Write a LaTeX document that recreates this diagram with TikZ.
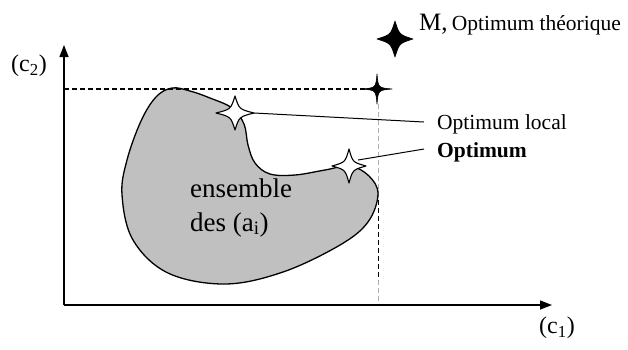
\documentclass[tikz,border=0pt]{standalone}
\usepackage{fontspec}
\setmainfont{Liberation Serif}
\usetikzlibrary{arrows.meta}
\definecolor{blobgray}{HTML}{C0C0C0}
\definecolor{guidegray}{HTML}{B0B0B0}
\tikzset{
  axis/.style={line width=1.4pt,-{Triangle[length=12pt,width=9pt]}},
  guide/.style={line width=1.3pt,dash pattern=on 5pt off 3pt},
  midguide/.style={line width=0.9pt,dash pattern=on 5pt off 3pt},
  thinguide/.style={line width=0.6pt,guidegray,dash pattern=on 5pt off 3pt},
  leader/.style={line width=1pt},
  lbl/.style={inner sep=0pt,anchor=base west,font=\fontsize{21.5}{25}\selectfont},
  axlbl/.style={inner sep=0pt,anchor=center,font=\fontsize{24}{28}\selectfont},
  biglbl/.style={inner sep=0pt,anchor=base west,font=\fontsize{27}{31}\selectfont},
  starwhite/.style={draw=black,fill=white,line width=1.1pt,line join=round},
  starblack/.style={draw=black,fill=black,line width=0.6pt,line join=round},
}
\newcommand\sparklepath[1]{(1,0) .. controls (#1,#1) .. (0,1) .. controls (-#1,#1) .. (-1,0) .. controls (-#1,-#1) .. (0,-1) .. controls (#1,-#1) .. (1,0) -- cycle}
\begin{document}
\begin{tikzpicture}[x=1pt,y=-1pt]
\useasboundingbox (0,0) rectangle (628,349);
% guides
\draw[thinguide] (378,104) -- (378,305);
\draw[midguide] (378,200) -- (378,280);
% blob
\draw[fill=blobgray,line width=1.3pt] plot[smooth cycle,tension=0.6] coordinates {
 (172,88) (190,91) (210,98) (232,108) (244,124) (248,145) (255,163) (270,174)
 (295,175) (325,170) (350,166) (369,176) (378,194) (368,222) (340,245) (283,272)
 (225,284) (168,273) (133,240) (122,195) (127,160) (141,121) (156,97)};
\draw[guide] (64,89) -- (372,89);
% axes
\coordinate (O) at (64,305);
\coordinate (Ytip) at (64,45);
\coordinate (Xtip) at (552,305);
\draw[axis] (O) -- (Ytip);
\draw[axis] (O) -- (Xtip);
\node[axlbl] (c2) at (29,66) {(c\textsubscript{2})};
\node[axlbl] (c1) at (557,328) {(c\textsubscript{1})};
% cross at corner
\begin{scope}[shift={(377,89)},xscale=15,yscale=15]
\path[starblack] \sparklepath{0.08};
\end{scope}
% M star
\begin{scope}[shift={(395,39)},xscale=18,yscale=18]
\path[starblack] \sparklepath{0.24};
\end{scope}
\node[inner sep=0pt,anchor=base west] (M) at (419,30) {\fontsize{25}{28}\selectfont M,\,\fontsize{21.5}{25}\selectfont Optimum théorique};
% local optimum star
\begin{scope}[shift={(235,113)},xscale=19,yscale=17]
\path[starwhite] \sparklepath{0.22};
\end{scope}
% optimum star
\begin{scope}[shift={(349,166)},xscale=17,yscale=17]
\path[starwhite] \sparklepath{0.22};
\end{scope}
\coordinate (loc) at (254,113);
\coordinate (opt) at (358,160);
\node[lbl] (tloc) at (437,129) {Optimum local};
\node[lbl] (topt) at (437,157) {\bfseries Optimum};
\draw[leader] (loc) -- ([xshift=-13pt,yshift=7pt]tloc.base west);
\draw[leader] (opt) -- ([xshift=-13pt,yshift=8pt]topt.base west);
% set label
\node[biglbl] (ens) at (190,197) {ensemble};
\node[biglbl] (des) at (190,231) {des (a\textsubscript{i})};
\end{tikzpicture}
\end{document}
